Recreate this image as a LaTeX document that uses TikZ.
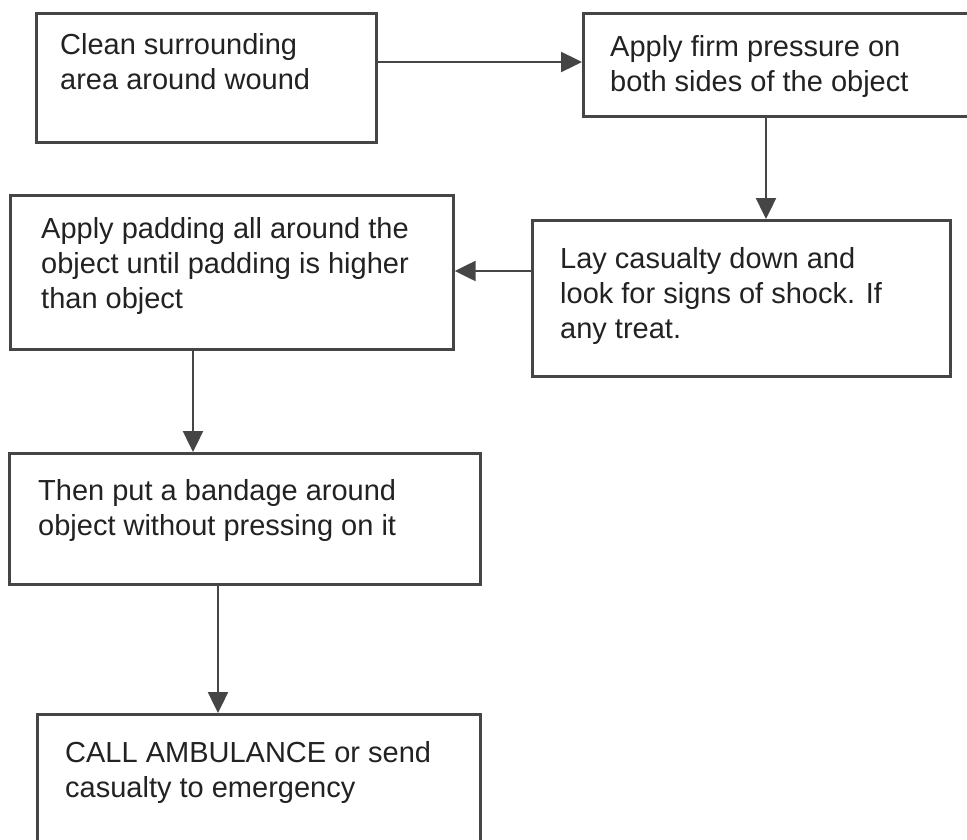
\documentclass[tikz,border=0pt]{standalone}
\usepackage{fontspec}
\setmainfont{Liberation Sans}
\usetikzlibrary{arrows.meta,calc}
\definecolor{linegray}{HTML}{454545}
\definecolor{txtgray}{HTML}{222222}
\begin{document}
\begin{tikzpicture}[x=1pt,y=-1pt,
  box/.style={draw=linegray, line width=2.7pt, rectangle, inner sep=0pt, anchor=north west},
  txt/.style={anchor=base west, inner sep=0pt, align=left, text=txtgray, font=\fontsize{29}{35}\selectfont},
  arr/.style={draw=linegray, line width=2.4pt, -{Triangle[length=21pt,width=20pt]}}]
\useasboundingbox (0,0) rectangle (967,839);
\clip (0,0) rectangle (967,839);
\fill[white] (0,0) rectangle (967,839);
% boxes
\node[box, minimum width=340pt, minimum height=129pt] (b1) at (35,12) {};
\node[box, minimum width=400pt, minimum height=103pt] (b2) at (582,12) {};
\node[box, minimum width=418pt, minimum height=156pt] (b3) at (531,219) {};
\node[box, minimum width=443pt, minimum height=154pt] (b4) at (9,194) {};
\node[box, minimum width=471pt, minimum height=131pt] (b5) at (8,452) {};
\node[box, minimum width=443pt, minimum height=160pt] (b6) at (36,713) {};
% texts (anchored at the baseline of the last line)
\node[txt] (t1) at (60,89) {Clean surrounding\\area around wound};
\node[txt] (t2) at (610,91) {Apply firm pressure on\\both sides of the object};
\node[txt] (t3) at (560,338) {Lay casualty down and\\look for signs of shock. If\\any treat.};
\node[txt] (t4) at (41,308) {Apply padding all around the\\object until padding is higher\\than object};
\node[txt] (t5) at (38,535) {Then put a bandage around\\object without pressing on it};
\node[txt] (t6) at (65,797) {CALL AMBULANCE or send\\casualty to emergency};
% connectors
\coordinate (a1) at ([yshift=-50pt]b1.north east);
\draw[arr] (a1) -- (a1 -| b2.west);
\coordinate (a2) at ([xshift=184pt]b2.south west);
\draw[arr] (a2) -- (a2 |- b3.north);
\coordinate (a3) at ([yshift=-52pt]b3.north west);
\draw[arr] (a3) -- (a3 -| b4.east);
\coordinate (a4) at ([xshift=184pt]b4.south west);
\draw[arr] (a4) -- (a4 |- b5.north);
\coordinate (a5) at ([xshift=210pt]b5.south west);
\draw[arr] (a5) -- (a5 |- b6.north);
\end{tikzpicture}
\end{document}
